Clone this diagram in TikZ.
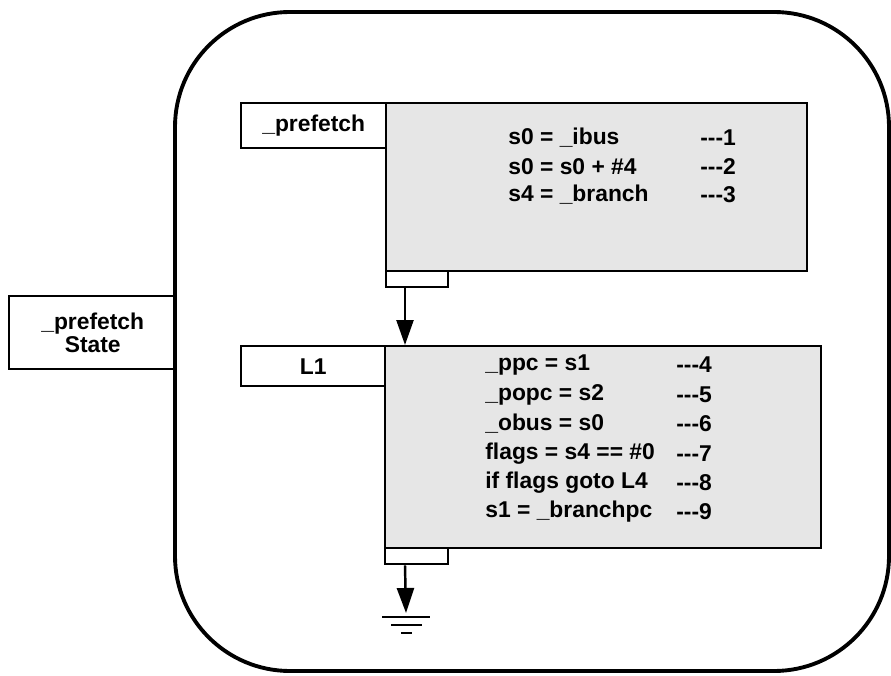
\documentclass[tikz,border=0pt]{standalone}
\usepackage{fontspec}
\setmainfont{Liberation Sans}
\usetikzlibrary{arrows.meta}
\definecolor{StateLine}{HTML}{000000}
\definecolor{StateShade}{HTML}{E6E6E6}

\tikzset{
  boxline/.style={draw=StateLine,line width=1.4pt},
  labelbox/.style={boxline,fill=white,anchor=north west,inner sep=0pt},
  bodybox/.style={boxline,fill=StateShade,anchor=north west,inner sep=0pt},
  codeline/.style={anchor=west,inner sep=0pt},
  flow/.style={StateLine,line width=1.4pt,-{Triangle[length=0.5cm,width=0.34cm]}},
  groundline/.style={StateLine,line width=1.6pt}
}

\begin{document}
\begin{tikzpicture}[x=0.02cm,y=-0.02cm,font=\fontsize{13}{13}\selectfont\bfseries]
      \useasboundingbox (0,0) rectangle (891,675);
      % state outline
      \node[boxline,fill=white,anchor=north west,minimum width=3.34cm,minimum height=1.46cm,align=center] (state) at (8,295) {\_prefetch\\State};
      \draw[StateLine,line width=2.2pt,rounded corners=2.3cm] (175,12) rectangle (889,671);
      % first block
      \node[bodybox,minimum width=8.42cm,minimum height=3.36cm] (pfbody) at (385,102) {};
      \node[labelbox,minimum width=2.9cm,minimum height=0.9cm] (pflabel) at (240,102) {\_prefetch};
      \node[labelbox,minimum width=1.24cm,minimum height=0.32cm] (pftab) at (385,270) {};
      \foreach \code/\tag [count=\i] in {s0 = \_ibus/1,s0 = s0 + \#4/2,s4 = \_branch/3} {
        \node[codeline] (pfcode\i) at (508,{138+28.5*(\i-1)}) {\code};
        \node[codeline] (pftag\i) at (700,{138+28.5*(\i-1)}) {-{}-{}-\tag};
      }
      % second block
      \node[bodybox,minimum width=8.72cm,minimum height=4.04cm] (lbody) at (384,345) {};
      \node[labelbox,minimum width=2.88cm,minimum height=0.8cm] (llabel) at (240,345) {L1};
      \node[labelbox,minimum width=1.26cm,minimum height=0.32cm] (ltab) at (384,547) {};
      \foreach \code/\tag [count=\i] in {\_ppc = s1/4,\_popc = s2/5,\_obus = s0/6,flags = s4 == \#0/7,if flags goto L4/8,s1 = \_branchpc/9} {
        \node[codeline] (lcode\i) at (485,{365+29.4*(\i-1)}) {\code};
        \node[codeline] (ltag\i) at (676,{365+29.4*(\i-1)}) {-{}-{}-\tag};
      }
      % connectors
      \draw[flow] ([xshift=0.4cm]pftab.south west) -- ([xshift=0.4cm]pftab.south west |- lbody.north);
      \coordinate (gnd) at (406,617);
      \draw[flow] ([xshift=0.42cm]ltab.south west) -- ([yshift=0.08cm]gnd);
      \draw[groundline] ([xshift=-0.48cm]gnd) -- ([xshift=0.48cm]gnd);
      \draw[groundline] ([xshift=-0.3cm,yshift=-0.16cm]gnd) -- ([xshift=0.32cm,yshift=-0.16cm]gnd);
      \draw[groundline] ([xshift=-0.1cm,yshift=-0.32cm]gnd) -- ([xshift=0.12cm,yshift=-0.32cm]gnd);
    \end{tikzpicture}
\end{document}
